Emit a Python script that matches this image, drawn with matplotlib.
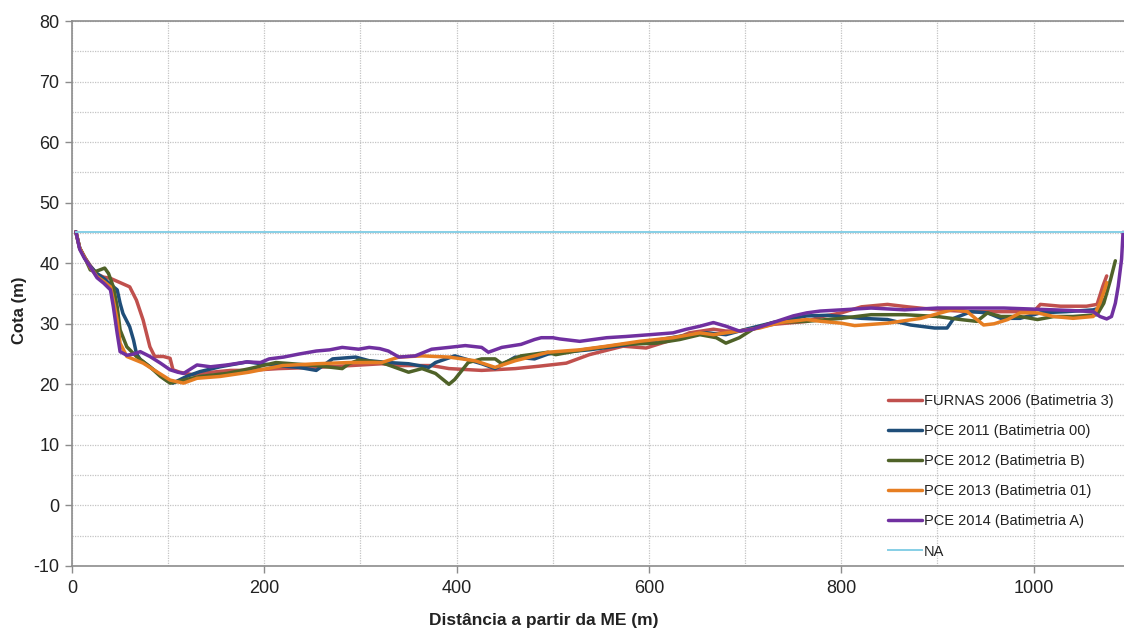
import matplotlib
matplotlib.use("Agg")
import matplotlib.pyplot as plt
from matplotlib.ticker import MultipleLocator

plt.rcParams['font.family'] = ['Liberation Sans', 'DejaVu Sans']
plt.rcParams['axes.unicode_minus'] = False

# Cross-section profiles: distance from the left bank (m) vs bed elevation (m)
furnas_2006_x = [4, 8, 13, 19, 26, 33, 40, 50, 60, 67, 74, 81, 86, 95, 102, 105, 112, 125, 145,
                 165, 184, 215, 254, 290, 322, 340, 374, 392, 426, 461, 486, 514, 538, 573, 597,
                 625, 642, 667, 680, 694, 729, 764, 780, 800, 821, 848, 869, 900, 935, 969, 1000,
                 1007, 1028, 1055, 1066, 1072, 1076]
furnas_2006_y = [45.2, 42.5, 41.0, 39.6, 38.2, 37.7, 37.5, 36.8, 36.1, 33.9, 30.6, 26.2, 24.6, 24.6,
                 24.3, 22.4, 22.0, 21.6, 22.0, 22.3, 22.3, 22.6, 22.8, 23.1, 23.4, 23.1, 23.1, 22.6,
                 22.3, 22.6, 23.0, 23.5, 24.9, 26.3, 26.0, 27.4, 28.5, 29.1, 28.8, 28.8, 29.9, 30.4,
                 31.2, 31.8, 32.8, 33.2, 32.8, 32.3, 32.0, 32.0, 32.0, 33.2, 32.9, 32.9, 33.2, 36.2,
                 37.9]

pce_2011_x = [4, 8, 13, 19, 26, 33, 40, 47, 50, 53, 60, 64, 67, 71, 85, 98, 105, 119, 133, 154,
              182, 212, 236, 254, 271, 295, 309, 329, 350, 371, 378, 398, 426, 440, 461, 481, 495,
              503, 538, 590, 642, 660, 680, 701, 729, 764, 785, 800, 821, 848, 872, 897, 910, 917,
              935, 952, 966, 986, 1007, 1034, 1062, 1069, 1073]
pce_2011_y = [45.2, 42.5, 41.0, 39.5, 38.3, 37.5, 36.5, 35.6, 33.4, 31.7, 29.5, 27.3, 25.1, 24.1,
              22.4, 20.7, 20.2, 21.3, 22.1, 22.9, 23.7, 23.1, 22.8, 22.3, 24.2, 24.5, 23.9, 23.6,
              23.4, 22.8, 23.6, 24.7, 23.4, 22.6, 24.5, 24.2, 25.0, 25.2, 25.7, 26.8, 28.2, 28.5,
              28.2, 29.1, 30.2, 31.3, 31.4, 31.2, 30.9, 30.7, 29.8, 29.3, 29.3, 30.9, 32.0, 31.8,
              30.9, 30.9, 31.8, 32.0, 32.3, 32.6, 34.0]

pce_2012_x = [4, 8, 13, 19, 24, 29, 34, 38, 43, 47, 50, 57, 67, 81, 92, 102, 116, 133, 161, 185,
              212, 254, 281, 288, 298, 322, 336, 350, 364, 378, 392, 398, 412, 426, 440, 447, 467,
              495, 503, 531, 573, 608, 632, 653, 670, 680, 694, 708, 729, 764, 785, 800, 831, 866,
              900, 924, 941, 952, 966, 986, 1004, 1021, 1041, 1066, 1073, 1080, 1085]
pce_2012_y = [45.2, 42.5, 41.0, 38.9, 38.6, 38.9, 39.2, 38.3, 36.1, 32.8, 29.0, 26.2, 24.6, 22.9,
              21.3, 20.2, 20.7, 21.3, 21.8, 22.6, 23.6, 23.1, 22.6, 23.4, 24.0, 23.6, 22.8, 22.0,
              22.6, 21.8, 20.0, 20.8, 23.6, 24.2, 24.2, 23.4, 24.7, 25.3, 24.9, 25.7, 26.6, 26.8,
              27.4, 28.2, 27.7, 26.8, 27.7, 29.1, 30.2, 30.4, 30.7, 30.9, 31.5, 31.5, 31.2, 30.7,
              30.4, 31.8, 31.2, 31.2, 30.7, 31.2, 31.2, 31.5, 33.4, 37.3, 40.4]

pce_2013_x = [4, 8, 13, 19, 26, 33, 40, 43, 47, 50, 57, 74, 88, 102, 116, 130, 154, 184, 219, 254,
              288, 322, 340, 364, 392, 419, 440, 461, 481, 495, 503, 528, 556, 590, 625, 653, 667,
              680, 694, 715, 736, 764, 779, 800, 814, 848, 883, 917, 931, 941, 948, 959, 973, 986,
              1004, 1021, 1041, 1062, 1069, 1074, 1076]
pce_2013_y = [45.2, 42.5, 41.0, 39.3, 37.8, 37.0, 36.1, 33.9, 30.6, 26.8, 24.6, 23.5, 22.1, 20.7,
              20.2, 21.0, 21.3, 22.0, 23.1, 23.4, 23.6, 23.6, 24.5, 24.7, 24.5, 23.9, 22.8, 23.9,
              24.7, 25.3, 25.4, 25.7, 26.3, 27.1, 27.7, 28.5, 28.2, 28.5, 28.8, 29.3, 30.2, 30.7,
              30.4, 30.1, 29.7, 30.1, 30.9, 32.4, 32.0, 30.7, 29.8, 30.0, 30.7, 31.8, 31.8, 31.2,
              30.9, 31.2, 33.4, 35.7, 36.8]

pce_2014_x = [4, 8, 13, 19, 26, 33, 40, 43, 47, 50, 57, 64, 71, 81, 92, 102, 110, 116, 124, 130,
              144, 161, 182, 196, 205, 220, 236, 254, 268, 281, 298, 309, 320, 329, 340, 357, 374,
              392, 409, 426, 433, 447, 467, 481, 488, 500, 507, 528, 556, 576, 601, 625, 639, 653,
              667, 680, 694, 708, 729, 750, 764, 778, 800, 831, 866, 900, 935, 969, 1004, 1038,
              1062, 1069, 1076, 1081, 1085, 1088, 1091.5, 1093]
pce_2014_y = [45.2, 42.3, 40.8, 39.4, 37.6, 36.7, 35.6, 32.8, 28.4, 25.4, 24.8, 25.0, 25.4, 24.6,
              23.5, 22.4, 22.0, 21.8, 22.6, 23.2, 22.9, 23.2, 23.7, 23.6, 24.2, 24.5, 25.0, 25.5,
              25.7, 26.1, 25.8, 26.1, 25.9, 25.5, 24.5, 24.7, 25.8, 26.1, 26.4, 26.1, 25.3, 26.1,
              26.6, 27.4, 27.7, 27.7, 27.5, 27.1, 27.7, 27.9, 28.2, 28.5, 29.1, 29.6, 30.2, 29.6,
              28.8, 29.1, 30.2, 31.3, 31.8, 32.1, 32.3, 32.6, 32.3, 32.6, 32.6, 32.6, 32.4, 32.2,
              32.0, 31.2, 30.8, 31.2, 33.4, 36.2, 40.7, 45.1]

na_x = [4, 1094]
na_y = [45.2, 45.2]

series_labels = ["FURNAS 2006 (Batimetria 3)", "PCE 2011 (Batimetria 00)",
                 "PCE 2012 (Batimetria B)", "PCE 2013 (Batimetria 01)",
                 "PCE 2014 (Batimetria A)", "NA"]

fig = plt.figure(figsize=(11.24, 6.28), dpi=100)
ax = fig.add_axes([72 / 1124, 62 / 628, 1052 / 1124, 545 / 628])

series = [
    (furnas_2006_x, furnas_2006_y, "#c0504d"),
    (pce_2011_x, pce_2011_y, "#1f4e79"),
    (pce_2012_x, pce_2012_y, "#4f6228"),
    (pce_2013_x, pce_2013_y, "#e67e22"),
    (pce_2014_x, pce_2014_y, "#7030a0"),
]
for (xs, ys, col), lab in zip(series, series_labels[:5]):
    ax.plot(xs, ys, color=col, lw=2.5, label=lab, solid_joinstyle="round",
            solid_capstyle="round")
ax.plot(na_x, na_y, color="#86cfe6", lw=1.4, label=series_labels[5])

ax.set_xlim(0, 1094)
ax.set_ylim(-10, 80)
ax.xaxis.set_major_locator(MultipleLocator(200))
ax.xaxis.set_minor_locator(MultipleLocator(100))
ax.yaxis.set_major_locator(MultipleLocator(10))
ax.yaxis.set_minor_locator(MultipleLocator(5))

ax.grid(True, which="both", color="#c4c4c4", linestyle=(0, (1, 1)), linewidth=0.9)
ax.set_axisbelow(True)

for side in ("left", "bottom", "top"):
    ax.spines[side].set_color("#8c8c8c")
    ax.spines[side].set_linewidth(1.2)
ax.spines["right"].set_visible(False)

ax.tick_params(axis="both", which="major", colors="#8c8c8c", labelcolor="#222222",
               labelsize=13, length=5, width=1)
ax.tick_params(axis="x", which="major", pad=5)
ax.tick_params(axis="y", which="major", pad=4)
ax.tick_params(axis="both", which="minor", length=0)

ax.set_xlabel("Distância a partir da ME (m)", fontsize=12.5, fontweight="bold", color="#222222")
ax.set_ylabel("Cota (m)", fontsize=12, fontweight="bold", color="#222222")
ax.xaxis.set_label_coords(0.448, -0.087)
ax.yaxis.set_label_coords(-0.043, 0.47)

leg = ax.legend(loc="lower left", bbox_to_anchor=(0.766, -0.005), frameon=False,
                fontsize=10.5, handlelength=2.3, handletextpad=0.15, labelspacing=1.1,
                borderaxespad=0.3)
for t in leg.get_texts():
    t.set_color("#222222")

fig.savefig("out.png", dpi=100)
